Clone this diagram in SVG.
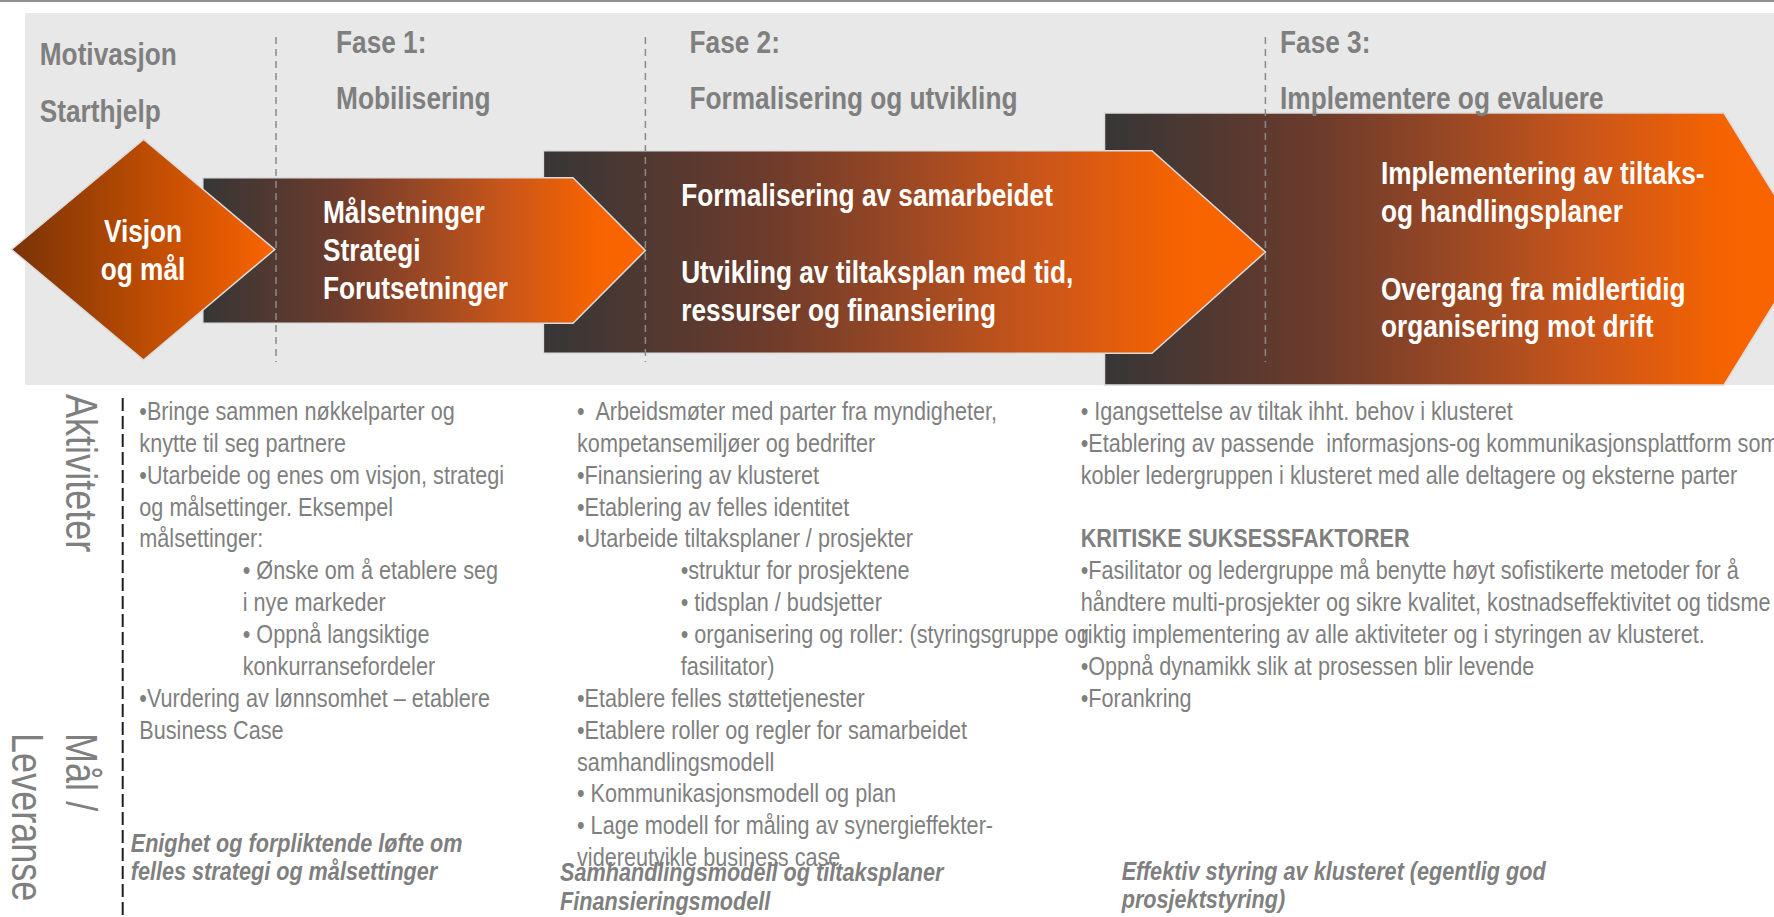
<svg xmlns="http://www.w3.org/2000/svg" width="1774" height="917" viewBox="0 0 1774 917">
  <style>
    text { font-family: "Liberation Sans", Arial, sans-serif; }
    .hdr { font-weight: bold; font-size: 32px; fill: #7f7f7f; }
    .wt { font-weight: bold; font-size: 32px; fill: #ffffff; }
    .body { font-size: 26.4px; fill: #7f7f7f; white-space: pre; }
    .bold { font-weight: bold; }
    .bi { font-weight: bold; font-style: italic; font-size: 26.4px; fill: #7f7f7f; }
    .rot { font-size: 44px; fill: #7f7f7f; }
    .shape { stroke: #dcdcdc; stroke-width: 1.5; }
    .divider { stroke: #8a8a8a; stroke-width: 1.5; stroke-dasharray: 7 5; fill: none; }
    .rowdiv { stroke: #1e1e1e; stroke-width: 2; stroke-dasharray: 13 5; fill: none; }
  </style>
  <defs>
    <linearGradient id="gArrow" x1="0" y1="0" x2="1" y2="0">
      <stop offset="0" stop-color="#363636"/>
      <stop offset="0.3" stop-color="#6b3b2c"/>
      <stop offset="0.5" stop-color="#9a4824"/>
      <stop offset="0.7" stop-color="#cd5719"/>
      <stop offset="0.88" stop-color="#f56300"/>
      <stop offset="1" stop-color="#fb6500"/>
    </linearGradient>
    <linearGradient id="gDiamond" x1="0" y1="0" x2="1" y2="0">
      <stop offset="0" stop-color="#7a3306"/>
      <stop offset="1" stop-color="#fa6400"/>
    </linearGradient>
  </defs>

  <rect x="0" y="0" width="1774" height="917" fill="#ffffff"/>
  <g id="background">
    <line x1="0" y1="1" x2="1774" y2="1" stroke="#8f8f8f" stroke-width="2"/>
    <rect x="25" y="13" width="1749" height="372" fill="#e8e8e8"/>
  </g>

  <g id="arrow3">
    <polygon class="shape" points="1104.5,113 1724,113 1808,249 1724,385 1104.5,385" fill="url(#gArrow)"/>
  </g>
  <g id="arrow2">
    <polygon class="shape" points="543.4,150.7 1152,150.7 1265.4,252 1152,353.3 543.4,353.3" fill="url(#gArrow)"/>
  </g>
  <g id="arrow1">
    <polygon class="shape" points="202.8,177.7 573,177.7 645.4,250.5 573,323.3 202.8,323.3" fill="url(#gArrow)"/>
  </g>
  <g id="diamond">
    <polygon class="shape" points="11.5,249.5 143.5,139.3 274.8,249.5 143.5,360" fill="url(#gDiamond)"/>
  </g>

  <g id="dividers">
    <line class="divider" x1="276" y1="37" x2="276" y2="362"/>
    <line class="divider" x1="645.4" y1="37" x2="645.4" y2="362"/>
    <line class="divider" x1="1265.4" y1="37" x2="1265.4" y2="362"/>
    <line class="rowdiv" x1="122.7" y1="398" x2="122.7" y2="917"/>
  </g>

  <g id="phase-headers" transform="scale(0.82 1)">
    <text class="hdr" x="48.5" y="65">Motivasjon</text>
    <text class="hdr" x="48.5" y="121.7">Starthjelp</text>
    <text class="hdr" x="409.8" y="52.7">Fase 1:</text>
    <text class="hdr" x="409.8" y="109.3">Mobilisering</text>
    <text class="hdr" x="840.9" y="52.7">Fase 2:</text>
    <text class="hdr" x="840.9" y="109.3">Formalisering og utvikling</text>
    <text class="hdr" x="1561" y="52.7">Fase 3:</text>
    <text class="hdr" x="1561" y="109.3">Implementere og evaluere</text>
  </g>

  <g id="diamond-label" transform="scale(0.82 1)">
    <text class="wt" x="174.4" y="241.7" text-anchor="middle">Visjon</text>
    <text class="wt" x="174.4" y="280" text-anchor="middle">og mål</text>
  </g>
  <g id="arrow1-label" transform="scale(0.82 1)">
    <text class="wt" x="393.9" y="222.7">Målsetninger</text>
    <text class="wt" x="393.9" y="261">Strategi</text>
    <text class="wt" x="393.9" y="299">Forutsetninger</text>
  </g>
  <g id="arrow2-label" transform="scale(0.82 1)">
    <text class="wt" x="830.7" y="206">Formalisering av samarbeidet</text>
    <text class="wt" x="830.7" y="283.3">Utvikling av tiltaksplan med tid,</text>
    <text class="wt" x="830.7" y="321">ressurser og finansiering</text>
  </g>
  <g id="arrow3-label" transform="scale(0.82 1)">
    <text class="wt" x="1684.1" y="184.3">Implementering av tiltaks-</text>
    <text class="wt" x="1684.1" y="221.7">og handlingsplaner</text>
    <text class="wt" x="1684.1" y="300">Overgang fra midlertidig</text>
    <text class="wt" x="1684.1" y="337.5">organisering mot drift</text>
  </g>

  <g id="row-labels">
    <text class="rot" transform="translate(66 394) rotate(90) scale(0.82 1)">Aktiviteter</text>
    <text class="rot" transform="translate(66 733) rotate(90) scale(0.82 1)">Mål /</text>
    <text class="rot" transform="translate(12 733) rotate(90) scale(0.82 1)">Leveranse</text>
  </g>

  <g id="col1-activities" transform="scale(0.82 1)">
    <text class="body" x="169.9" y="420">•Bringe sammen nøkkelparter og</text>
    <text class="body" x="169.9" y="451.9">knytte til seg partnere</text>
    <text class="body" x="169.9" y="483.7">•Utarbeide og enes om visjon, strategi</text>
    <text class="body" x="169.9" y="515.6">og målsettinger. Eksempel</text>
    <text class="body" x="169.9" y="547.5">målsettinger:</text>
    <text class="body" x="296" y="579.4">• Ønske om å etablere seg</text>
    <text class="body" x="296" y="611.2">i nye markeder</text>
    <text class="body" x="296" y="643.1">• Oppnå langsiktige</text>
    <text class="body" x="296" y="675">konkurransefordeler</text>
    <text class="body" x="169.9" y="706.9">•Vurdering av lønnsomhet – etablere</text>
    <text class="body" x="169.9" y="738.7">Business Case</text>
  </g>
  <g id="col1-deliverables" transform="scale(0.82 1)">
    <text class="bi" x="159.4" y="851.7">Enighet og forpliktende løfte om</text>
    <text class="bi" x="159.4" y="880.5">felles strategi og målsettinger</text>
  </g>

  <g id="col2-activities" transform="scale(0.82 1)">
    <text class="body" x="703.7" y="420">•  Arbeidsmøter med parter fra myndigheter,</text>
    <text class="body" x="703.7" y="451.9">kompetansemiljøer og bedrifter</text>
    <text class="body" x="703.7" y="483.7">•Finansiering av klusteret</text>
    <text class="body" x="703.7" y="515.6">•Etablering av felles identitet</text>
    <text class="body" x="703.7" y="547.5">•Utarbeide tiltaksplaner / prosjekter</text>
    <text class="body" x="830.1" y="579.4">•struktur for prosjektene</text>
    <text class="body" x="830.1" y="611.2">• tidsplan / budsjetter</text>
    <text class="body" x="830.1" y="643.1">• organisering og roller: (styringsgruppe og</text>
    <text class="body" x="830.1" y="675">fasilitator)</text>
    <text class="body" x="703.7" y="706.9">•Etablere felles støttetjenester</text>
    <text class="body" x="703.7" y="738.7">•Etablere roller og regler for samarbeidet</text>
    <text class="body" x="703.7" y="770.6">samhandlingsmodell</text>
    <text class="body" x="703.7" y="802.5">• Kommunikasjonsmodell og plan</text>
    <text class="body" x="703.7" y="834.4">• Lage modell for måling av synergieffekter-</text>
    <text class="body" x="703.7" y="866.2">videreutvikle business case</text>
  </g>
  <g id="col2-deliverables" transform="scale(0.82 1)">
    <text class="bi" x="682.9" y="880.7">Samhandlingsmodell og tiltaksplaner</text>
    <text class="bi" x="682.9" y="910.5">Finansieringsmodell</text>
  </g>

  <g id="col3-activities" transform="scale(0.82 1)">
    <text class="body" x="1317.9" y="420">• Igangsettelse av tiltak ihht. behov i klusteret</text>
    <text class="body" x="1317.9" y="451.9">•Etablering av passende  informasjons-og kommunikasjonsplattform som</text>
    <text class="body" x="1317.9" y="483.7">kobler ledergruppen i klusteret med alle deltagere og eksterne parter</text>
    <text class="body bold" x="1317.9" y="547.5">KRITISKE SUKSESSFAKTORER</text>
    <text class="body" x="1317.9" y="579.4">•Fasilitator og ledergruppe må benytte høyt sofistikerte metoder for å</text>
    <text class="body" x="1317.9" y="611.2">håndtere multi-prosjekter og sikre kvalitet, kostnadseffektivitet og tidsme</text>
    <text class="body" x="1317.9" y="643.1">riktig implementering av alle aktiviteter og i styringen av klusteret.</text>
    <text class="body" x="1317.9" y="675">•Oppnå dynamikk slik at prosessen blir levende</text>
    <text class="body" x="1317.9" y="706.9">•Forankring</text>
  </g>
  <g id="col3-deliverables" transform="scale(0.82 1)">
    <text class="bi" x="1367.9" y="880">Effektiv styring av klusteret (egentlig god</text>
    <text class="bi" x="1367.9" y="908.5">prosjektstyring)</text>
  </g>
</svg>
